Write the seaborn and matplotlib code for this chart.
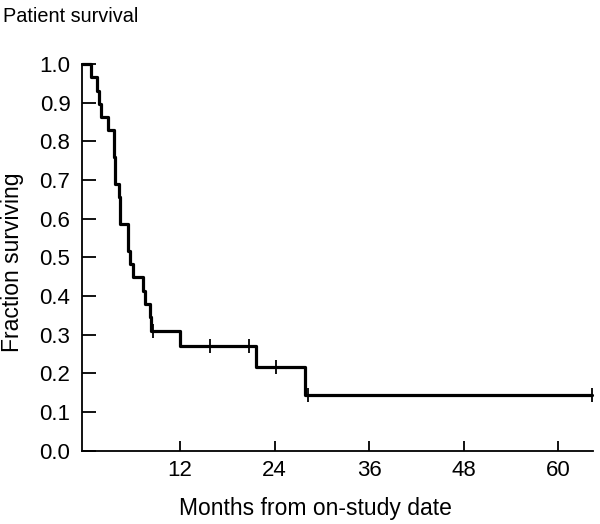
import numpy as np
import pandas as pd
import matplotlib
matplotlib.use("Agg")
import matplotlib.pyplot as plt
import seaborn as sns

# Kaplan-Meier steps (months, fraction surviving after the step)
step_months = [-0.5, 0.75, 1.5, 1.7, 1.9, 2.85, 3.6, 3.8, 4.2, 4.4, 5.4, 5.6, 6.0,
               7.3, 7.5, 8.15, 8.35, 12.0, 21.6, 27.9, 64.3]
step_surv = [1.0, 0.966, 0.931, 0.897, 0.862, 0.828, 0.759, 0.690, 0.655, 0.586,
             0.517, 0.483, 0.448, 0.414, 0.379, 0.345, 0.310, 0.271, 0.217, 0.145, 0.145]

# censored observations (tick marks)
censor_months = [8.55, 15.8, 20.8, 24.2, 28.25, 64.3]
censor_surv = [0.310, 0.271, 0.271, 0.217, 0.145, 0.145]

x_ticks = [12, 24, 36, 48, 60]
y_ticks = [0.0, 0.1, 0.2, 0.3, 0.4, 0.5, 0.6, 0.7, 0.8, 0.9, 1.0]

sns.set_style("ticks")
plt.rcParams['font.family'] = ['Liberation Sans', 'DejaVu Sans']
plt.rcParams['text.color'] = 'black'
plt.rcParams['axes.labelcolor'] = 'black'

fig = plt.figure(figsize=(6.0, 5.24), dpi=100)
ax = fig.add_axes([0.136, 0.140, 0.852, 0.738])

steps = pd.DataFrame({"month": step_months, "surv": step_surv})
cens = pd.DataFrame({"month": censor_months, "surv": censor_surv})

sns.lineplot(data=steps, x="month", y="surv", drawstyle="steps-post",
             color="black", linewidth=2.3, ax=ax, clip_on=False)
ax.plot(cens["month"], cens["surv"], linestyle="none", marker="|",
        markersize=10, markeredgewidth=1.3, color="black", clip_on=False)

ax.set_xlim(-0.5, 64.4)
ax.set_ylim(0, 1.0)
ax.set_xticks(x_ticks)
ax.set_yticks(y_ticks)
ax.set_yticklabels([f"{v:.1f}" for v in y_ticks])

for side in ["top", "right"]:
    ax.spines[side].set_visible(False)
for side in ["left", "bottom"]:
    ax.spines[side].set_linewidth(1.3)
    ax.spines[side].set_color("black")

ax.tick_params(axis="x", direction="in", length=7, width=1.3, pad=7,
               labelsize=16, colors="black")
ax.tick_params(axis="y", direction="in", length=10, width=1.3, pad=8,
               labelsize=16, colors="black")

ax.set_xlabel("Months from on-study date", fontsize=16.5)
ax.set_ylabel("Fraction surviving", fontsize=16.5)
ax.xaxis.set_label_coords(0.458, -0.120)
ax.yaxis.set_label_coords(-0.113, 0.488)
fig.text(0.005, 0.968, "Patient survival", fontsize=14.3, ha="left", va="center")

fig.savefig("out.png", dpi=100, facecolor="white")
